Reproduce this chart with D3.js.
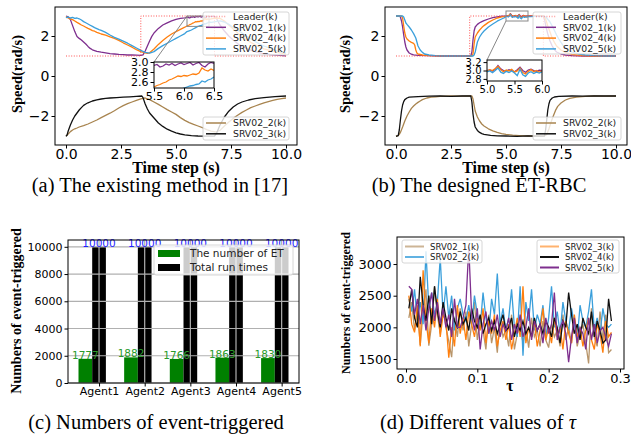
<!DOCTYPE html>
<html>
<head>
<meta charset="utf-8">
<script src="https://cdn.jsdelivr.net/npm/d3@7"></script>
<style>
  body { margin: 0; background: #fff; }
  svg { display: block; font-family: "DejaVu Sans", sans-serif; }
</style>
</head>
<body>
<svg id="fig" width="631" height="439"></svg>
<script>
// ---------------- data: (a) existing method ----------------
var leaderA = [[0, 1], [3.4, 1], [3.4, 3], [6.75, 3], [6.75, 1], [10, 1]];
var a1 = [[0,3.0],[0.1,2.96],[0.2,2.82],[0.3,2.52],[0.4,2.22],[0.5,1.98],[0.6,1.88],[0.7,1.8],[0.8,1.7],[0.9,1.6],[1.0,1.48],[1.1,1.38],[1.2,1.31],[1.3,1.27],[1.4,1.23],[1.6,1.19],[1.8,1.16],[2.0,1.12],[2.2,1.1],[2.4,1.08],[2.6,1.07],[2.8,1.05],[3.0,1.05],[3.2,1.04],[3.4,1.03],[3.5,1.06],[3.6,1.25],[3.7,1.5],[3.8,1.75],[3.9,1.98],[4.0,2.15],[4.2,2.38],[4.4,2.55],[4.6,2.66],[4.8,2.76],[5.0,2.83],[5.2,2.88],[5.4,2.91],[6.6,2.98],[6.7,2.99],[6.8,2.96],[6.9,2.75],[7.0,2.55],[7.2,2.25],[7.4,2.0],[7.6,1.8],[7.8,1.62],[8.0,1.48],[8.2,1.38],[8.4,1.29],[8.6,1.22],[8.8,1.16],[9.0,1.11],[9.3,1.07],[9.6,1.04],[10.0,1.01]];
var a4 = [[0,2.97],[0.1,2.9],[0.2,2.85],[0.3,2.82],[0.4,2.75],[0.5,2.68],[0.6,2.62],[0.7,2.55],[0.8,2.5],[0.9,2.44],[1.0,2.38],[1.1,2.33],[1.2,2.27],[1.3,2.24],[1.4,2.18],[1.5,2.14],[1.6,2.1],[1.8,2.04],[2.0,1.96],[2.2,1.88],[2.4,1.78],[2.6,1.66],[2.8,1.55],[3.0,1.44],[3.2,1.32],[3.4,1.22],[3.6,1.16],[3.7,1.13],[3.8,1.16],[4.0,1.35],[4.2,1.58],[4.4,1.78],[4.6,1.95],[4.8,2.1],[5.0,2.22],[5.2,2.33],[5.4,2.44],[6.6,2.86],[6.8,2.9],[7.0,2.88],[7.2,2.75],[7.4,2.55],[7.6,2.35],[7.8,2.15],[8.0,1.98],[8.2,1.82],[8.4,1.68],[8.6,1.56],[8.8,1.45],[9.0,1.36],[9.2,1.3],[9.4,1.24],[9.6,1.18],[9.8,1.14],[10.0,1.1]];
var a5 = [[0,2.92],[0.1,2.95],[0.2,2.9],[0.3,2.93],[0.4,2.88],[0.5,2.9],[0.6,2.86],[0.7,2.8],[0.8,2.72],[0.9,2.66],[1.0,2.6],[1.1,2.54],[1.2,2.48],[1.3,2.42],[1.4,2.37],[1.5,2.32],[1.6,2.28],[1.8,2.18],[2.0,2.05],[2.2,1.93],[2.4,1.84],[2.6,1.74],[2.8,1.64],[3.0,1.52],[3.2,1.4],[3.4,1.28],[3.6,1.18],[3.8,1.14],[4.0,1.22],[4.2,1.38],[4.4,1.52],[4.6,1.64],[4.8,1.76],[5.0,1.88],[5.2,2.0],[5.4,2.12],[6.6,2.68],[6.8,2.72],[7.0,2.76],[7.2,2.7],[7.4,2.58],[7.6,2.44],[7.8,2.3],[8.0,2.15],[8.2,2.0],[8.4,1.86],[8.6,1.72],[8.8,1.6],[9.0,1.5],[9.2,1.42],[9.4,1.33],[9.6,1.26],[9.8,1.2],[10.0,1.15]];
var a2 = [[0,-3.0],[0.1,-2.9],[0.2,-2.78],[0.3,-2.7],[0.4,-2.64],[0.5,-2.6],[0.6,-2.55],[0.8,-2.48],[1.0,-2.4],[1.2,-2.3],[1.4,-2.2],[1.6,-2.08],[1.8,-1.97],[2.0,-1.86],[2.2,-1.74],[2.4,-1.6],[2.6,-1.48],[2.8,-1.38],[3.0,-1.3],[3.2,-1.22],[3.4,-1.14],[3.6,-1.1],[3.8,-1.18],[4.0,-1.3],[4.2,-1.42],[4.4,-1.55],[4.6,-1.68],[4.8,-1.8],[5.0,-1.92],[5.2,-2.08],[5.4,-2.22],[5.6,-2.33],[5.8,-2.42],[6.0,-2.5],[6.2,-2.58],[6.4,-2.68],[6.6,-2.76],[6.8,-2.8],[7.0,-2.72],[7.2,-2.5],[7.4,-2.3],[7.6,-2.12],[7.8,-1.96],[8.0,-1.82],[8.2,-1.7],[8.4,-1.58],[8.6,-1.5],[8.8,-1.42],[9.0,-1.34],[9.2,-1.28],[9.4,-1.22],[9.6,-1.17],[9.8,-1.13],[10.0,-1.1]];
var a3 = [[0,-3.02],[0.05,-2.95],[0.1,-2.75],[0.2,-2.45],[0.3,-2.2],[0.4,-2.0],[0.5,-1.85],[0.6,-1.7],[0.7,-1.58],[0.8,-1.47],[0.9,-1.4],[1.0,-1.34],[1.2,-1.25],[1.4,-1.19],[1.6,-1.15],[1.8,-1.12],[2.0,-1.1],[2.3,-1.08],[2.6,-1.06],[2.9,-1.04],[3.2,-1.02],[3.45,-1.0],[3.5,-1.08],[3.6,-1.4],[3.7,-1.65],[3.8,-1.85],[4.0,-2.1],[4.2,-2.35],[4.4,-2.52],[4.6,-2.66],[4.8,-2.76],[5.0,-2.84],[5.2,-2.9],[5.4,-2.94],[5.7,-2.98],[6.0,-3.0],[6.4,-3.01],[6.75,-3.0],[6.85,-2.85],[7.0,-2.45],[7.2,-2.05],[7.4,-1.76],[7.6,-1.55],[7.8,-1.4],[8.0,-1.3],[8.3,-1.2],[8.6,-1.13],[9.0,-1.08],[9.5,-1.03],[10.0,-1.0]];
// zoomed detail 5.5 .. 6.5
var a1Zoom = [[5.5,2.93],[5.55,2.95],[5.6,2.9],[5.65,2.92],[5.7,2.96],[5.75,2.94],[5.8,2.97],[5.85,2.93],[5.9,2.96],[5.95,2.98],[6.0,2.95],[6.05,2.97],[6.1,2.99],[6.15,2.94],[6.2,2.97],[6.25,2.99],[6.3,2.93],[6.35,2.9],[6.4,2.96],[6.45,2.99],[6.5,2.97]];
var a4Zoom = [[5.5,2.5],[5.55,2.53],[5.6,2.55],[5.65,2.58],[5.7,2.6],[5.75,2.64],[5.8,2.66],[5.85,2.69],[5.9,2.72],[5.95,2.71],[6.0,2.73],[6.05,2.72],[6.1,2.74],[6.15,2.76],[6.2,2.75],[6.25,2.78],[6.3,2.88],[6.35,2.84],[6.4,2.82],[6.45,2.86],[6.5,2.83]];
var a5Zoom = [[5.5,2.22],[5.6,2.26],[5.7,2.3],[5.8,2.36],[5.9,2.42],[5.95,2.45],[6.0,2.48],[6.05,2.5],[6.1,2.52],[6.15,2.53],[6.2,2.55],[6.25,2.56],[6.3,2.62],[6.35,2.6],[6.4,2.64],[6.45,2.66],[6.5,2.7]];

// ---------------- data: (b) designed ET-RBC ----------------
var leaderB = [[0, 1], [3.35, 1], [3.35, 3], [6.7, 3], [6.7, 1], [10, 1]];
var b1 = [[0,3.0],[0.15,3.0],[0.2,2.95],[0.25,2.75],[0.3,2.45],[0.35,2.05],[0.4,1.7],[0.45,1.45],[0.5,1.3],[0.6,1.15],[0.7,1.09],[0.8,1.06],[1.0,1.03],[1.5,1.02],[2.0,1.0],[2.5,1.01],[3.0,1.0],[3.4,1.0],[3.45,1.2],[3.5,1.8],[3.55,2.25],[3.6,2.45],[3.7,2.58],[3.8,2.66],[3.9,2.72],[4.0,2.77],[4.2,2.85],[4.4,2.92],[4.6,2.96],[4.8,2.99],[6.1,3.0],[6.4,3.01],[6.7,3.0],[6.75,2.85],[6.8,2.55],[6.9,2.1],[7.0,1.75],[7.1,1.5],[7.2,1.32],[7.3,1.2],[7.5,1.1],[7.7,1.05],[8.0,1.02],[8.5,1.0],[9.0,1.01],[9.5,1.0],[10.0,1.0]];
var b4 = [[0,3.0],[0.25,3.0],[0.3,2.9],[0.35,2.5],[0.4,2.15],[0.45,1.95],[0.5,1.85],[0.6,1.75],[0.7,1.68],[0.8,1.63],[0.85,1.55],[0.9,1.3],[0.95,1.15],[1.0,1.1],[1.2,1.05],[1.5,1.02],[2.0,1.01],[2.5,0.99],[3.0,1.0],[3.45,1.0],[3.5,1.1],[3.55,1.6],[3.6,1.95],[3.7,2.15],[3.8,2.3],[3.9,2.42],[4.0,2.52],[4.2,2.68],[4.4,2.8],[4.6,2.9],[4.8,2.96],[6.1,2.99],[6.4,3.0],[6.7,3.0],[6.8,2.85],[6.9,2.5],[7.0,2.2],[7.1,1.9],[7.2,1.68],[7.3,1.5],[7.5,1.3],[7.7,1.18],[8.0,1.08],[8.5,1.02],[9.0,1.0],[9.5,1.01],[10.0,1.0]];
var b5 = [[0,3.0],[0.3,3.0],[0.35,2.95],[0.4,2.8],[0.45,2.65],[0.5,2.58],[0.6,2.45],[0.7,2.3],[0.8,2.12],[0.9,1.9],[0.95,1.7],[1.0,1.5],[1.1,1.3],[1.2,1.18],[1.3,1.1],[1.5,1.05],[1.8,1.02],[2.2,1.0],[2.8,1.01],[3.5,1.0],[3.55,1.05],[3.6,1.2],[3.65,1.45],[3.7,1.7],[3.8,1.95],[3.9,2.12],[4.0,2.25],[4.2,2.45],[4.4,2.6],[4.6,2.74],[4.8,2.85],[4.9,2.9],[6.1,2.97],[6.4,2.98],[6.75,2.98],[6.85,2.9],[7.0,2.7],[7.1,2.5],[7.2,2.28],[7.3,2.05],[7.4,1.85],[7.5,1.68],[7.6,1.52],[7.8,1.32],[8.0,1.2],[8.3,1.1],[8.6,1.05],[9.0,1.02],[9.5,1.0],[10.0,1.0]];
var b2 = [[0,-3.0],[0.1,-2.98],[0.15,-2.92],[0.2,-2.82],[0.3,-2.55],[0.4,-2.25],[0.5,-2.0],[0.6,-1.8],[0.7,-1.62],[0.8,-1.5],[0.9,-1.4],[1.0,-1.32],[1.1,-1.25],[1.2,-1.18],[1.4,-1.1],[1.6,-1.06],[1.8,-1.04],[2.0,-1.02],[2.5,-1.0],[3.0,-1.01],[3.45,-1.0],[3.5,-1.15],[3.55,-1.45],[3.6,-1.75],[3.7,-2.05],[3.8,-2.25],[3.9,-2.4],[4.0,-2.5],[4.2,-2.64],[4.4,-2.74],[4.6,-2.82],[4.8,-2.88],[5.0,-2.92],[5.3,-2.96],[5.6,-2.98],[6.0,-3.0],[6.4,-3.0],[6.75,-3.0],[6.85,-2.92],[6.95,-2.65],[7.05,-2.3],[7.15,-2.0],[7.25,-1.72],[7.35,-1.52],[7.5,-1.35],[7.7,-1.2],[7.9,-1.12],[8.2,-1.06],[8.6,-1.02],[9.0,-1.0],[9.5,-1.01],[10.0,-1.0]];
var b3 = [[0,-3.02],[0.1,-2.98],[0.15,-2.7],[0.2,-2.2],[0.25,-1.75],[0.3,-1.45],[0.35,-1.28],[0.4,-1.18],[0.5,-1.1],[0.6,-1.06],[0.8,-1.04],[1.0,-1.03],[1.5,-1.01],[2.0,-1.0],[2.5,-1.02],[3.0,-1.0],[3.4,-1.0],[3.45,-1.3],[3.5,-1.9],[3.55,-2.3],[3.6,-2.55],[3.7,-2.72],[3.8,-2.82],[3.9,-2.88],[4.0,-2.92],[4.3,-2.97],[4.6,-2.99],[5.0,-3.0],[5.5,-3.02],[6.0,-2.99],[6.5,-3.01],[6.75,-3.0],[6.8,-2.7],[6.85,-2.2],[6.9,-1.7],[6.95,-1.4],[7.0,-1.22],[7.1,-1.1],[7.2,-1.05],[7.4,-1.02],[8.0,-1.0],[8.5,-1.01],[9.0,-1.0],[9.5,-0.99],[10.0,-1.0]];
// zoomed detail 5.0 .. 6.0
var b1Zoom = [[5.0,3.0],[5.05,3.01],[5.1,2.99],[5.15,3.03],[5.2,3.12],[5.25,3.04],[5.3,3.0],[5.35,2.98],[5.4,3.02],[5.45,3.0],[5.5,2.97],[5.55,3.02],[5.6,3.08],[5.65,3.0],[5.7,2.96],[5.75,3.01],[5.8,3.03],[5.85,3.0],[5.9,2.98],[5.95,3.01],[6.0,3.0]];
var b4Zoom = [[5.0,2.98],[5.05,3.02],[5.1,3.0],[5.15,3.05],[5.2,3.1],[5.25,3.02],[5.3,2.97],[5.35,3.01],[5.4,2.99],[5.45,3.03],[5.5,2.96],[5.55,2.99],[5.6,3.06],[5.65,2.95],[5.7,2.92],[5.75,2.98],[5.8,3.02],[5.85,2.97],[5.9,3.0],[5.95,2.96],[6.0,2.99]];
var b5Zoom = [[5.0,2.97],[5.05,2.99],[5.1,2.95],[5.15,3.0],[5.2,3.06],[5.25,2.96],[5.3,2.93],[5.35,2.98],[5.4,2.95],[5.45,2.99],[5.5,2.94],[5.55,2.88],[5.6,3.03],[5.65,2.9],[5.7,2.86],[5.75,2.94],[5.8,2.97],[5.85,2.93],[5.9,2.96],[5.95,2.94],[6.0,2.97]];

// ---------------- data: (c) event-triggered counts ----------------
var agents = ["Agent1", "Agent2", "Agent3", "Agent4", "Agent5"];
var etCounts = [1777, 1882, 1766, 1863, 1830];
var totalRuns = [10000, 10000, 10000, 10000, 10000];

// ---------------- data: (d) different tau ----------------
var tau = [0.004,0.008,0.012,0.016,0.020,0.024,0.028,0.032,0.036,0.040,
  0.044,0.048,0.052,0.056,0.060,0.064,0.068,0.072,0.076,0.080,
  0.084,0.088,0.092,0.096,0.100,0.104,0.108,0.112,0.116,0.120,
  0.124,0.128,0.132,0.136,0.140,0.144,0.148,0.152,0.156,0.160,
  0.164,0.168,0.172,0.176,0.180,0.184,0.188,0.192,0.196,0.200,
  0.204,0.208,0.212,0.216,0.220,0.224,0.228,0.232,0.236,0.240,
  0.244,0.248,0.252,0.256,0.260,0.264,0.268,0.272,0.276,0.280,
  0.284,0.288];
var d1 = [2150,2400,1950,2300,1720,2250,2600,1710,2050,2640,
  2200,1900,2350,2000,1780,1530,2150,1850,2300,1950,
  2250,1700,2050,2400,1800,2100,1950,1650,2200,1750,
  2000,1600,2150,1850,1950,1700,2200,1650,1900,2050,
  1750,2000,1680,2150,1850,1950,1700,2100,1800,1680,
  2050,1850,1950,1700,2200,1800,2000,1750,2150,1700,
  1900,2050,1750,1430,2300,1850,1700,2250,1800,2200,
  1600,1650];
var d2 = [2450,2250,2600,2100,2400,2050,3200,2300,2550,2200,
  2400,3100,2200,2650,2150,2500,1950,2300,2450,2200,
  2100,2350,2050,2500,2200,2000,2550,2150,1900,2450,
  2200,2850,2050,2300,1950,2150,2600,2000,1850,2650,
  1550,2400,2100,2600,1950,2200,2050,2350,1850,2150,
  2650,2000,2250,1900,2400,2100,1950,2300,2050,1800,
  2350,2100,2000,2250,2600,1950,2150,1900,2300,2050,
  2000,2050];
var d3v = [2500,2050,1920,2350,1700,2900,2100,1750,2300,2000,
  2450,1850,2200,2100,1520,2000,1700,2350,1900,2150,
  1800,2250,2050,1850,2150,1950,2300,1750,2100,1900,
  2200,1700,1950,2100,1800,2050,1650,1900,2150,1850,
  2650,1750,2000,1850,2100,1700,1950,2300,1800,2000,
  1750,2150,1850,2000,1650,2100,1900,1750,2200,1850,
  2000,1700,1950,2150,1800,1650,2050,1900,1600,2100,
  1850,1920];
var d4 = [2300,2600,2150,2000,2800,2350,2100,2500,2050,2650,
  2250,2000,2400,2150,1950,2300,2100,2000,2250,2050,
  2150,1950,2300,2100,2000,2200,1900,2050,2150,1950,
  2100,1900,2050,2200,1950,2000,2150,1850,2050,1950,
  2100,1900,2000,1850,2150,1950,2050,1900,2100,2000,
  1850,2150,2000,1750,2100,2000,2550,2200,1900,2050,
  1800,2150,2000,1900,2250,1850,2100,1950,1750,1800,
  2450,2100];
var d5 = [2650,2600,2200,2450,2050,2350,1950,2300,2550,2100,
  2400,2050,2300,2000,2200,1850,2450,2000,2000,2150,
  2350,3270,2200,1950,2300,1650,2050,2250,1900,2100,
  1950,2200,1850,2050,1950,2150,1800,2050,1900,2200,
  1850,2000,2300,1800,2100,1950,2050,1750,2150,1900,
  2050,2550,1800,2000,2100,1900,1450,1850,2150,1750,
  2000,1900,1650,2150,1800,2050,1750,1950,2000,1850,
  1700,1900];

// ---------------- colours ----------------
var cPurple = "#7e2f8e", cOrange = "#ff7f0e", cBlue = "#3a9fdb",
    cBrown = "#a8844f", cBlack = "#111111", cRed = "#ff4040";

var svg = d3.select("#fig");
svg.append("rect").attr("width", 631).attr("height", 439).attr("fill", "#fff");
var SERIF = "'Liberation Serif','Times New Roman',serif";

function merge(coarse, fine) {
  var lo = fine[0][0], hi = fine[fine.length - 1][0];
  return coarse.filter(function(d) { return d[0] < lo || d[0] > hi; })
    .concat(fine).sort(function(a, b) { return a[0] - b[0]; });
}

function frame(g, x, y) {
  var xr = x.range(), yr = y.range();
  g.append("rect").attr("x", xr[0]).attr("y", yr[1])
    .attr("width", xr[1] - xr[0]).attr("height", yr[0] - yr[1])
    .attr("fill", "none").attr("stroke", "#000").attr("stroke-width", 1);
}

function axes(g, x, y, xt, yt, xf, yf, fs) {
  var ax = g.append("g").attr("transform", "translate(0," + y.range()[0] + ")")
    .call(d3.axisBottom(x).tickValues(xt).tickFormat(xf).tickSize(3.5).tickPadding(1));
  var ay = g.append("g").attr("transform", "translate(" + x.range()[0] + ",0)")
    .call(d3.axisLeft(y).tickValues(yt).tickFormat(yf).tickSize(3.5).tickPadding(2));
  [ax, ay].forEach(function(a) {
    a.select(".domain").remove();
    a.selectAll("text").attr("font-size", fs).attr("font-family", "DejaVu Sans").attr("fill", "#000");
    a.selectAll("line").attr("stroke", "#000");
  });
}

function clip(g, id, x, y) {
  var xr = x.range(), yr = y.range();
  g.append("clipPath").attr("id", id).append("rect")
    .attr("x", xr[0]).attr("y", yr[1]).attr("width", xr[1] - xr[0]).attr("height", yr[0] - yr[1]);
  return g.append("g").attr("clip-path", "url(#" + id + ")");
}

function legend(g, box, items, opt) {
  g.append("rect").attr("x", box[0]).attr("y", box[1]).attr("width", box[2]).attr("height", box[3])
    .attr("rx", 2).attr("fill", "#fff").attr("fill-opacity", 0.8)
    .attr("stroke", "#cccccc").attr("stroke-width", 0.8);
  items.forEach(function(it, i) {
    var yy = opt.y0 + i * opt.step;
    if (it.patch) {
      g.append("rect").attr("x", opt.h0).attr("y", yy - 3.5).attr("width", opt.h1 - opt.h0).attr("height", 7)
        .attr("fill", it.color);
    } else {
      g.append("line").attr("x1", opt.h0).attr("x2", opt.h1).attr("y1", yy).attr("y2", yy)
        .attr("stroke", it.color).attr("stroke-width", opt.lw || 1.5)
        .attr("stroke-opacity", it.opacity || 1)
        .attr("stroke-dasharray", it.dash || null);
    }
    g.append("text").attr("x", opt.tx).attr("y", yy).attr("dy", "0.35em")
      .attr("font-size", opt.fs).attr("fill", "#222").text(it.label);
  });
}

function timePanel(p) {
  var g = svg.append("g");
  var x = p.x, y = p.y;
  var line = d3.line().x(function(d) { return x(d[0]); }).y(function(d) { return y(d[1]); });
  var pl = clip(g, p.id + "clip", x, y);
  p.series.forEach(function(s) {
    pl.append("path").datum(s.data).attr("d", line).attr("fill", "none")
      .attr("stroke", s.color).attr("stroke-width", 1.3).attr("stroke-linejoin", "round");
  });
  pl.append("path").datum(p.leader).attr("d", line).attr("fill", "none")
    .attr("stroke", cRed).attr("stroke-width", 0.9).attr("stroke-dasharray", "1,1.6");

  // zoom marker and connector
  var z = p.zoom;
  g.append("rect").attr("x", x(z.xd[0])).attr("y", y(z.yd[1]))
    .attr("width", x(z.xd[1]) - x(z.xd[0])).attr("height", y(z.yd[0]) - y(z.yd[1]))
    .attr("fill", "none").attr("stroke", "#888").attr("stroke-width", 1);
  g.append("line").attr("x1", z.box[0]).attr("y1", z.box[1])
    .attr("x2", x(z.xd[0])).attr("y2", y(z.link)).attr("stroke", "#888").attr("stroke-width", 1);

  frame(g, x, y);
  axes(g, x, y, [0, 2.5, 5, 7.5, 10], [-2, 0, 2], d3.format(".1f"), d3.format("d"), 14);

  // inset
  var ix = d3.scaleLinear(z.xd, [z.box[0], z.box[2]]);
  var iy = d3.scaleLinear(z.yd, [z.box[3], z.box[1]]);
  var ig = g.append("g");
  ig.append("rect").attr("x", z.box[0]).attr("y", z.box[1])
    .attr("width", z.box[2] - z.box[0]).attr("height", z.box[3] - z.box[1]).attr("fill", "#fff");
  var iline = d3.line().x(function(d) { return ix(d[0]); }).y(function(d) { return iy(d[1]); });
  var ipl = clip(ig, p.id + "iclip", ix, iy);
  z.series.forEach(function(s) {
    ipl.append("path").datum(s.data).attr("d", iline).attr("fill", "none")
      .attr("stroke", s.color).attr("stroke-width", 1.3);
  });
  frame(ig, ix, iy);
  axes(ig, ix, iy, z.xt, z.yt, d3.format(".1f"), d3.format(".1f"), z.fs);

  // legends
  legend(g, p.leg1, [
    { label: "Leader(k)", color: cRed, dash: "1,1.6", opacity: 0.5 },
    { label: "SRV02_1(k)", color: cPurple },
    { label: "SRV02_4(k)", color: cOrange },
    { label: "SRV02_5(k)", color: cBlue }
  ], { y0: 16.5, step: 10.8, h0: p.leg1[0] + 3, h1: p.leg1[0] + 23, tx: p.leg1[0] + 30, fs: 9.3 });
  legend(g, p.leg2, [
    { label: "SRV02_2(k)", color: cBrown },
    { label: "SRV02_3(k)", color: cBlack }
  ], { y0: 123, step: 10.8, h0: p.leg2[0] + 3, h1: p.leg2[0] + 23, tx: p.leg2[0] + 30, fs: 9.3 });

  // labels
  g.append("text").attr("x", (x.range()[0] + x.range()[1]) / 2).attr("y", 173)
    .attr("text-anchor", "middle").attr("font-family", SERIF).attr("font-weight", "bold")
    .attr("font-size", 16).text("Time step (s)");
  g.append("text").attr("transform", "translate(" + p.ylabX + ",74) rotate(-90)")
    .attr("text-anchor", "middle").attr("font-family", SERIF).attr("font-weight", "bold")
    .attr("font-size", 14.5).text("Speed(rad/s)");
  g.append("text").attr("x", p.capX).attr("y", 192).attr("text-anchor", "middle")
    .attr("font-family", SERIF).attr("font-size", 20.5).text(p.caption);
}

// ---------------- (a) ----------------
timePanel({
  id: "pa",
  x: d3.scaleLinear([-0.5, 10.5], [55, 297]),
  y: d3.scaleLinear([-3.45, 3.45], [145, 7]),
  leader: leaderA,
  series: [
    { data: merge(a1, a1Zoom), color: cPurple },
    { data: merge(a4, a4Zoom), color: cOrange },
    { data: merge(a5, a5Zoom), color: cBlue },
    { data: a2, color: cBrown },
    { data: a3, color: cBlack }
  ],
  zoom: {
    xd: [5.5, 6.5], yd: [2.48, 3.0], link: 3.0,
    box: [154, 62, 214, 88], fs: 11,
    xt: [5.5, 6.0, 6.5], yt: [2.6, 2.8, 3.0],
    series: [
      { data: a5Zoom, color: cBlue },
      { data: a4Zoom, color: cOrange },
      { data: a1Zoom, color: cPurple }
    ]
  },
  leg1: [203, 12, 86, 43],
  leg2: [203, 117, 86, 23],
  ylabX: 22,
  capX: 160,
  caption: "(a) The existing method in [17]"
});

// ---------------- (b) ----------------
timePanel({
  id: "pb",
  x: d3.scaleLinear([-0.5, 10.5], [385, 627]),
  y: d3.scaleLinear([-3.45, 3.45], [145, 7]),
  leader: leaderB,
  series: [
    { data: merge(b1, b1Zoom), color: cPurple },
    { data: merge(b4, b4Zoom), color: cOrange },
    { data: merge(b5, b5Zoom), color: cBlue },
    { data: b2, color: cBrown },
    { data: b3, color: cBlack }
  ],
  zoom: {
    xd: [5.0, 6.0], yd: [2.75, 3.25], link: 2.75,
    box: [487, 60, 542, 81], fs: 10,
    xt: [5.0, 5.5, 6.0], yt: [2.8, 3.0, 3.2],
    series: [
      { data: b1Zoom, color: cPurple },
      { data: b4Zoom, color: cOrange },
      { data: b5Zoom, color: cBlue }
    ]
  },
  leg1: [533, 12, 88, 42],
  leg2: [533, 117, 88, 23],
  ylabX: 350,
  capX: 479,
  caption: "(b) The designed ET-RBC"
});

// ---------------- (c) ----------------
(function() {
  var g = svg.append("g");
  var x = d3.scaleLinear([-0.38, 4.68], [68, 299]);
  var y = d3.scaleLinear([0, 10500], [383, 240]);
  var bw = 0.3;
  g.selectAll(".et").data(etCounts).enter().append("rect")
    .attr("x", function(d, i) { return x(i - bw / 2); })
    .attr("width", function() { return x(bw) - x(0); })
    .attr("y", function(d) { return y(d); })
    .attr("height", function(d) { return y(0) - y(d); })
    .attr("fill", "green");
  g.selectAll(".tot").data(totalRuns).enter().append("rect")
    .attr("x", function(d, i) { return x(i + bw / 2); })
    .attr("width", function() { return x(bw) - x(0); })
    .attr("y", function(d) { return y(d); })
    .attr("height", function(d) { return y(0) - y(d); })
    .attr("fill", "#000");
  // grid
  var yt = [0, 2000, 4000, 6000, 8000, 10000];
  g.selectAll(".gy").data(yt).enter().append("line")
    .attr("x1", 68).attr("x2", 299)
    .attr("y1", function(d) { return y(d); }).attr("y2", function(d) { return y(d); })
    .attr("stroke", "#b0b0b0").attr("stroke-width", 1.2);
  g.selectAll(".gx").data(agents).enter().append("line")
    .attr("x1", function(d, i) { return x(i + bw); }).attr("x2", function(d, i) { return x(i + bw); })
    .attr("y1", 240).attr("y2", 383)
    .attr("stroke", "#b0b0b0").attr("stroke-width", 1.2);
  // value labels
  g.selectAll(".etl").data(etCounts).enter().append("text")
    .attr("x", function(d, i) { return x(i); }).attr("y", function(d) { return y(d); })
    .attr("text-anchor", "middle").attr("font-size", 10.5).attr("fill", "#2a9a2a")
    .text(function(d) { return d; });
  g.selectAll(".totl").data(totalRuns).enter().append("text")
    .attr("x", function(d, i) { return x(i + bw); }).attr("y", function(d) { return y(d); })
    .attr("text-anchor", "middle").attr("font-size", 10.5).attr("fill", "#1f1fff")
    .text(function(d) { return d; });
  frame(g, x, y);
  axes(g, x, y, [0, 1, 2, 3, 4].map(function(i) { return i + bw; }), yt,
    function(d) { return agents[Math.round(d - bw)]; }, d3.format("d"), 11);
  legend(g, [154, 245, 139, 30], [
    { label: "The number of ET", color: "green", patch: true },
    { label: "Total run times", color: "#000", patch: true }
  ], { y0: 253.5, step: 14, h0: 158, h1: 180, tx: 190, fs: 10.5 });
  g.append("text").attr("transform", "translate(21,311) rotate(-90)")
    .attr("text-anchor", "middle").attr("font-family", SERIF).attr("font-weight", "bold")
    .attr("font-size", 14).text("Numbers of event-triggered");
  g.append("text").attr("x", 156).attr("y", 429).attr("text-anchor", "middle")
    .attr("font-family", SERIF).attr("font-size", 20.5).text("(c) Numbers of event-triggered");
})();

// ---------------- (d) ----------------
(function() {
  var g = svg.append("g");
  var x = d3.scaleLinear([-0.0126, 0.3056], [397, 624]);
  var y = d3.scaleLinear([1342, 3427], [369, 237]);
  var line = d3.line().x(function(d, i) { return x(tau[i]); }).y(function(d) { return y(d); });
  var pl = clip(g, "pdclip", x, y);
  var series = [
    { data: d1, color: "#b8956a", label: "SRV02_1(k)" },
    { data: d2, color: cBlue, label: "SRV02_2(k)" },
    { data: d3v, color: cOrange, label: "SRV02_3(k)" },
    { data: d4, color: cBlack, label: "SRV02_4(k)" },
    { data: d5, color: cPurple, label: "SRV02_5(k)" }
  ];
  series.forEach(function(s) {
    pl.append("path").datum(s.data).attr("d", line).attr("fill", "none")
      .attr("stroke", s.color).attr("stroke-width", 1.3);
  });
  frame(g, x, y);
  axes(g, x, y, [0, 0.1, 0.2, 0.3], [1500, 2000, 2500, 3000], d3.format(".1f"), d3.format("d"), 13);
  legend(g, [402, 240, 80, 23], [
    { label: series[0].label, color: series[0].color, opacity: 0.7 },
    { label: series[1].label, color: series[1].color, opacity: 0.8 }
  ], { y0: 246.5, step: 10.5, h0: 405, h1: 424, tx: 430, fs: 8.6, lw: 2 });
  legend(g, [537, 240, 82, 33], [
    { label: series[2].label, color: series[2].color, opacity: 0.6 },
    { label: series[3].label, color: series[3].color },
    { label: series[4].label, color: series[4].color }
  ], { y0: 246.5, step: 10.5, h0: 540, h1: 559, tx: 565, fs: 8.6, lw: 2 });
  g.append("text").attr("x", 510).attr("y", 391).attr("text-anchor", "middle")
    .attr("font-family", SERIF).attr("font-weight", "bold").attr("font-size", 16).text("τ");
  g.append("text").attr("transform", "translate(350,303) rotate(-90)")
    .attr("text-anchor", "middle").attr("font-family", SERIF).attr("font-weight", "bold")
    .attr("font-size", 12).text("Numbers of event-triggered");
  var cap = g.append("text").attr("x", 478).attr("y", 429).attr("text-anchor", "middle")
    .attr("font-family", SERIF).attr("font-size", 20.5);
  cap.append("tspan").text("(d) Different values of ");
  cap.append("tspan").attr("font-style", "italic").text("τ");
})();
</script>
</body>
</html>
